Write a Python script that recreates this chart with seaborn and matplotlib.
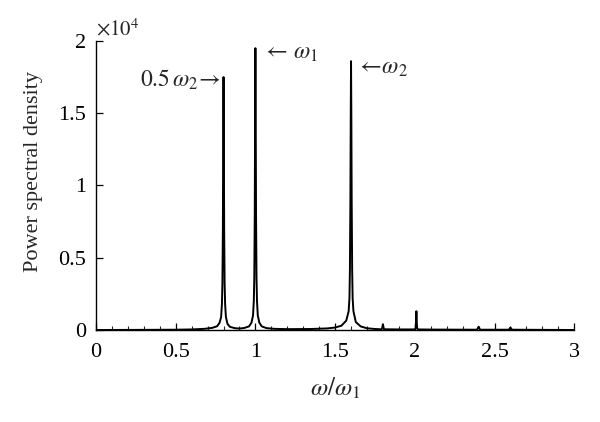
import numpy as np
import pandas as pd
import seaborn as sns
import matplotlib.pyplot as plt
from matplotlib.ticker import MultipleLocator

# --- Data ---
FREQ_RATIO = [0.00, 0.30, 0.50, 0.60, 0.68, 0.73, 0.760, 0.775, 0.785, 0.790, 0.793, 0.796,
              0.798, 0.800, 0.802, 0.804, 0.807, 0.810, 0.815, 0.825, 0.840, 0.87, 0.90,
              0.93, 0.96, 0.975, 0.985, 0.990, 0.993, 0.996, 0.998, 1.000, 1.002, 1.004,
              1.007, 1.010, 1.015, 1.025, 1.040, 1.07, 1.12, 1.20, 1.35, 1.45, 1.50, 1.54,
              1.57, 1.585, 1.590, 1.593, 1.596, 1.598, 1.600, 1.602, 1.604, 1.607, 1.610,
              1.615, 1.630, 1.66, 1.70, 1.75, 1.79, 1.795, 1.80, 1.805, 1.81, 1.90, 2.000,
              2.005, 2.008, 2.010, 2.012, 2.015, 2.02, 2.10, 2.39, 2.40, 2.41, 2.59, 2.60,
              2.61, 2.80, 3.00]
PSD = [0, 10, 20, 40, 80, 150, 260, 500, 900, 1800, 3200, 7000,
       13000, 17500, 13000, 7000, 3200, 1800, 900, 420, 220, 130, 100,
       140, 250, 500, 1000, 2000, 3600, 8000, 14500, 19500, 14500, 8000,
       3600, 2000, 1000, 500, 250, 130, 80, 60, 70, 110, 170, 300,
       650, 1300, 2200, 4200, 9000, 14500, 18600, 14500, 9000, 4200, 2200,
       1300, 550, 250, 120, 70, 50, 110, 400, 110, 50, 40, 40,
       120, 600, 1300, 600, 120, 40, 30, 20, 220, 20, 20, 170,
       20, 10, 0]

TICK_X = [0, 0.5, 1, 1.5, 2, 2.5, 3]
TICK_X_LABELS = ["0", "0.5", "1", "1.5", "2", "2.5", "3"]
TICK_Y = [0, 5000, 10000, 15000, 20000]
TICK_Y_LABELS = ["0", "0.5", "1", "1.5", "2"]
OUTPUT_PNG_FILENAME = "out.png"


def create_and_save_plot(df: pd.DataFrame):
    sns.set_theme(style="ticks")
    plt.rcParams["font.family"] = ["Liberation Serif", "DejaVu Serif"]
    plt.rcParams["mathtext.fontset"] = "stix"

    fig = plt.figure(figsize=(6, 4.22), dpi=100)
    ax = fig.add_axes([0.16, 0.218, 0.797, 0.685])

    sns.lineplot(x="freq", y="psd", data=df, ax=ax, color="black",
                 linewidth=1.4, estimator=None, sort=False)

    ax.set_xlim(0, 3)
    ax.set_ylim(0, 20000)
    ax.set_xticks(TICK_X)
    ax.set_xticklabels(TICK_X_LABELS)
    ax.xaxis.set_minor_locator(MultipleLocator(0.1))
    ax.set_yticks(TICK_Y)
    ax.set_yticklabels(TICK_Y_LABELS)

    ax.tick_params(axis="both", which="major", direction="in", length=5,
                   width=0.9, labelsize=16, colors="black")
    ax.tick_params(axis="x", which="major", pad=9)
    ax.tick_params(axis="y", which="major", pad=7)
    ax.tick_params(axis="x", which="minor", direction="in", length=3, width=0.8)
    for side in ["left", "bottom"]:
        ax.spines[side].set_linewidth(1.0)
        ax.spines[side].set_color("black")
    sns.despine(ax=ax)

    ax.set_xlabel(r"$\omega/\omega_1$", fontsize=18, labelpad=10)
    ax.set_ylabel("Power spectral density", fontsize=16)
    ax.yaxis.set_label_coords(-0.11, 0.55)

    ax.text(0.0, 1.0, r"$\times 10^4$", transform=ax.transAxes, fontsize=15,
            ha="left", va="bottom")
    ax.text(1.04, 19100, r"$\leftarrow\,\omega_1$", fontsize=17, ha="left", va="center")
    ax.text(0.78, 17300, r"$0.5\,\omega_2\!\rightarrow$", fontsize=17, ha="right", va="center")
    ax.text(1.63, 18100, r"$\leftarrow\!\omega_2$", fontsize=17, ha="left", va="center")

    fig.savefig(OUTPUT_PNG_FILENAME, dpi=100)


def main():
    df = pd.DataFrame({"freq": FREQ_RATIO, "psd": PSD})
    create_and_save_plot(df)


if __name__ == "__main__":
    main()
